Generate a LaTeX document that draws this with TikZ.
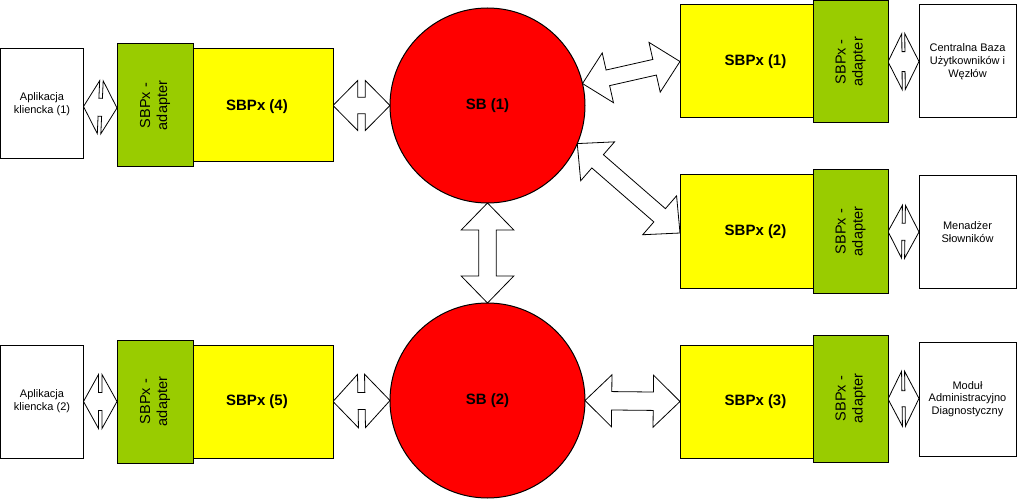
\documentclass[tikz,border=0pt]{standalone}
\usepackage{fontspec}
\setmainfont{Liberation Sans}
\usetikzlibrary{calc,backgrounds}
\definecolor{sbyellow}{RGB}{255,255,0}
\definecolor{sbgreen}{RGB}{153,204,0}
\definecolor{sbred}{RGB}{255,0,0}
\tikzset{
  every node/.style={inner sep=0pt,outer sep=0pt},
  wh/.style 2 args={minimum width=#1pt,minimum height=#2pt},
  boxbase/.style={draw=black,line width=1pt,anchor=north west},
  whitebox/.style={boxbase,fill=white,font=\fontsize{11}{12.7}\selectfont,align=center},
  yelbox/.style={boxbase,fill=sbyellow},
  adbox/.style={boxbase,fill=sbgreen},
  sbcircle/.style={circle,draw=black,line width=1pt,fill=sbred,minimum size=195pt,font=\bfseries\fontsize{15}{18}\selectfont},
  sbpxlabel/.style={font=\bfseries\fontsize{15}{18}\selectfont},
  adlabel/.style={font=\fontsize{14.5}{17}\selectfont,align=center,rotate=90},
  fatarr/.style={draw=black,fill=white,line width=0.8pt,line join=miter},
}
% #1 start, #2 end, #3 head length, #4 head half-width, #5 shaft half-width
\newcommand{\fatarrow}[5]{%
  \draw[fatarr] let \p1=($(#2)-(#1)$), \n1={veclen(\x1,\y1)}, \n2={atan2(\y1,\x1)} in
   [shift={(#1)}, rotate=\n2]
   (0pt,0pt) -- (#3pt,#4pt) -- (#3pt,#5pt) -- ({(\n1-#3)*1pt},#5pt) -- ({(\n1-#3)*1pt},#4pt)
   -- ({\n1*1pt},0pt) -- ({(\n1-#3)*1pt},-#4pt) -- ({(\n1-#3)*1pt},-#5pt) -- (#3pt,-#5pt)
   -- (#3pt,-#4pt) -- cycle;}
\begin{document}
\begin{tikzpicture}[x=1pt,y=-1pt]
\useasboundingbox (0,0) rectangle (1018,500);

% left top
\node[whitebox,wh={83}{110}] (app1) at (0.5,49) {Aplikacja\\kliencka (1)};
\node[adbox,wh={76}{123}] (ad4) at (117,44) {};
\node[adlabel] at (ad4.center) {SBPx -\\adapter};
\node[yelbox,wh={140}{113}] (sbpx4) at (193,49) {};
\node[sbpxlabel] at ([xshift=-6pt,yshift=-1pt]sbpx4.center) {SBPx (4)};

% left bottom
\node[whitebox,wh={83}{113}] (app2) at (0.5,345) {Aplikacja\\kliencka (2)};
\node[adbox,wh={76}{123}] (ad5) at (117,340) {};
\node[adlabel] at (ad5.center) {SBPx -\\adapter};
\node[yelbox,wh={140}{113}] (sbpx5) at (193,345) {};
\node[sbpxlabel] at ([xshift=-6pt]sbpx5.center) {SBPx (5)};

% circles
\node[sbcircle] (sb1) at (487.5,105.5) {SB (1)};
\node[sbcircle] (sb2) at (487.5,400.5) {SB (2)};

% right top
\node[yelbox,wh={133}{113}] (sbpx1) at (680,5) {};
\node[sbpxlabel] at ([xshift=9pt]sbpx1.center) {SBPx (1)};
\node[adbox,wh={75}{122.5}] (ad1) at (813,0.5) {};
\node[adlabel] at (ad1.center) {SBPx -\\adapter};
\node[whitebox,wh={97}{113}] (cbu) at (919,5) {Centralna Baza\\Użytkowników i\\Węzłów};

% right middle
\node[yelbox,wh={133}{113}] (sbpx2) at (680,175) {};
\node[sbpxlabel] at ([xshift=9pt]sbpx2.center) {SBPx (2)};
\node[adbox,wh={75}{123}] (ad2) at (813,170) {};
\node[adlabel] at (ad2.center) {SBPx -\\adapter};
\node[whitebox,wh={97}{112}] (men) at (919,176) {Menadżer\\Słowników};

% right bottom
\node[yelbox,wh={133}{113}] (sbpx3) at (680,345) {};
\node[sbpxlabel] at ([xshift=9pt]sbpx3.center) {SBPx (3)};
\node[adbox,wh={75}{127}] (ad3) at (813,335) {};
\node[adlabel] at (ad3.center) {SBPx -\\adapter};
\node[whitebox,wh={97}{114}] (mod) at (919,342) {Moduł\\Administracyjno\\Diagnostyczny};

\begin{scope}[on background layer]
\fatarrow{[yshift=-2.5pt]app1.east}{[yshift=-2.5pt]ad4.west}{15}{26.5}{9}
\fatarrow{sbpx4.east}{sb1.west}{24.7}{25}{8.3}
\fatarrow{sb1.south}{sb2.north}{27}{26.3}{8.8}
\fatarrow{sb1.13}{sbpx1.west}{26}{25.5}{8}
\fatarrow{sb1.-23.5}{[yshift=-1.5pt]sbpx2.west}{27}{25.8}{8.8}
\fatarrow{sb2.east}{sbpx3.west}{26.7}{26}{9.2}
\fatarrow{sbpx5.east}{sb2.west}{25}{26.7}{8.5}
\fatarrow{app2.east}{ad5.west}{15}{27}{9}
\fatarrow{ad1.east}{cbu.west}{14}{28}{10}
\fatarrow{ad2.east}{men.west}{14}{26.5}{8.5}
\fatarrow{[yshift=-0.5pt]ad3.east}{[yshift=0.5pt]mod.west}{14}{27.5}{8}
\end{scope}
\end{tikzpicture}
\end{document}
